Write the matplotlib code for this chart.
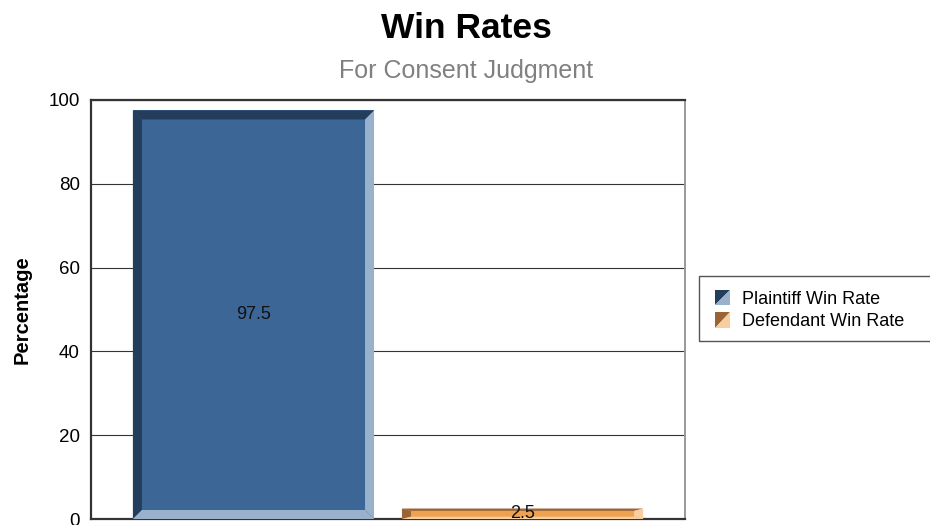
import matplotlib
matplotlib.use("Agg")
import matplotlib.pyplot as plt
from matplotlib.patches import Polygon, Rectangle
from matplotlib.legend_handler import HandlerBase

plt.rcParams['font.family'] = ['Liberation Sans', 'DejaVu Sans']

# data
series = ['Plaintiff Win Rate', 'Defendant Win Rate']
values = [97.5, 2.5]
value_labels = ['97.5', '2.5']

# colours: (fill, dark bevel, light bevel)
colors = [('#3B6696', '#233D5C', '#9AB1CC'),
          ('#EFA152', '#9A6434', '#F6CE9F')]

W, H, DPI = 930, 525, 100
fig = plt.figure(figsize=(W / DPI, H / DPI), dpi=DPI)

# axes in pixel terms
left, right, top, bottom = 91, 685, 100, 519
ax = fig.add_axes([left / W, 1 - bottom / H, (right - left) / W, (bottom - top) / H])
ax.set_xlim(-0.5, 0.5)
ax.set_ylim(0, 100)

bar_w = 0.406
gap = 0.047
offsets = [-(bar_w + gap) / 2, (bar_w + gap) / 2]

# pixel -> data scales
px_x = 1.0 / (right - left)
px_y = 100.0 / (bottom - top)
bevel_px = 9

for i, (v, lab) in enumerate(zip(values, value_labels)):
    fill, dark, light = colors[i]
    bars = ax.bar(offsets[i], v, width=bar_w, color=fill, zorder=3)
    b = bars[0]
    x0, x1 = b.get_x(), b.get_x() + b.get_width()
    y0, y1 = 0, v
    h_px = v / px_y
    bx = bevel_px * px_x
    by = min(bevel_px, h_px * 0.22) * px_y
    polys = [
        ([(x0, y1), (x1, y1), (x1 - bx, y1 - by), (x0 + bx, y1 - by)], dark),
        ([(x0, y0), (x0, y1), (x0 + bx, y1 - by), (x0 + bx, y0 + by)], dark),
        ([(x1, y1), (x1, y0), (x1 - bx, y0 + by), (x1 - bx, y1 - by)], light),
        ([(x0, y0), (x1, y0), (x1 - bx, y0 + by), (x0 + bx, y0 + by)], light),
    ]
    for pts, c in polys:
        ax.add_patch(Polygon(pts, closed=True, facecolor=c, edgecolor='none', zorder=4))
    ax.text(offsets[i], v / 2, lab, ha='center', va='center', fontsize=13,
            color='#111111', zorder=5)

# grid + spines
ax.set_yticks([0, 20, 40, 60, 80, 100])
ax.set_xticks([])
ax.yaxis.grid(True, color='#333333', linewidth=0.8, zorder=0)
ax.tick_params(axis='y', length=0, pad=8, labelsize=13.5)
for s in ['top', 'left', 'bottom']:
    ax.spines[s].set_color('#333333')
    ax.spines[s].set_linewidth(1.6)
ax.spines['right'].set_color('#999999')
ax.spines['right'].set_linewidth(1.4)
ax.set_ylabel('Percentage', fontsize=14.5, fontweight='bold', labelpad=12)

# titles
fig.text(466 / W, 1 - 38 / H, 'Win Rates', ha='center', va='baseline',
         fontsize=25.5, fontweight='bold', color='black')
fig.text(466 / W, 1 - 78 / H, 'For Consent Judgment', ha='center', va='baseline',
         fontsize=18, color='#808080')


# legend with split-square handles
class SplitSquare(HandlerBase):
    def __init__(self, dark, light):
        super().__init__()
        self.dark, self.light = dark, light

    def create_artists(self, legend, orig_handle, xdescent, ydescent,
                       width, height, fontsize, trans):
        s = min(width, height)
        x, y = -xdescent, -ydescent
        p1 = Polygon([(x, y), (x, y + s), (x + s, y + s)], closed=True,
                     facecolor=self.dark, edgecolor='none', transform=trans)
        p2 = Polygon([(x, y), (x + s, y), (x + s, y + s)], closed=True,
                     facecolor=self.light, edgecolor='none', transform=trans)
        return [p1, p2]


handles = [Rectangle((0, 0), 1, 1) for _ in series]
hmap = {h: SplitSquare(c[1], c[2]) for h, c in zip(handles, colors)}
fig.legend(handles, series, handler_map=hmap, frameon=False,
           loc='upper left', bbox_to_anchor=(715 / W, 1 - 290 / H),
           fontsize=13, handlelength=0.92, handleheight=0.92,
           handletextpad=0.6, labelspacing=0.25, borderpad=0, borderaxespad=0)

# legend box runs off the right edge
fig.add_artist(Rectangle((699 / W, 1 - 341 / H), 250 / W, 65 / H,
                         transform=fig.transFigure, facecolor='none',
                         edgecolor='#555555', linewidth=1.0, clip_on=False))

fig.savefig('out.png', dpi=DPI)
